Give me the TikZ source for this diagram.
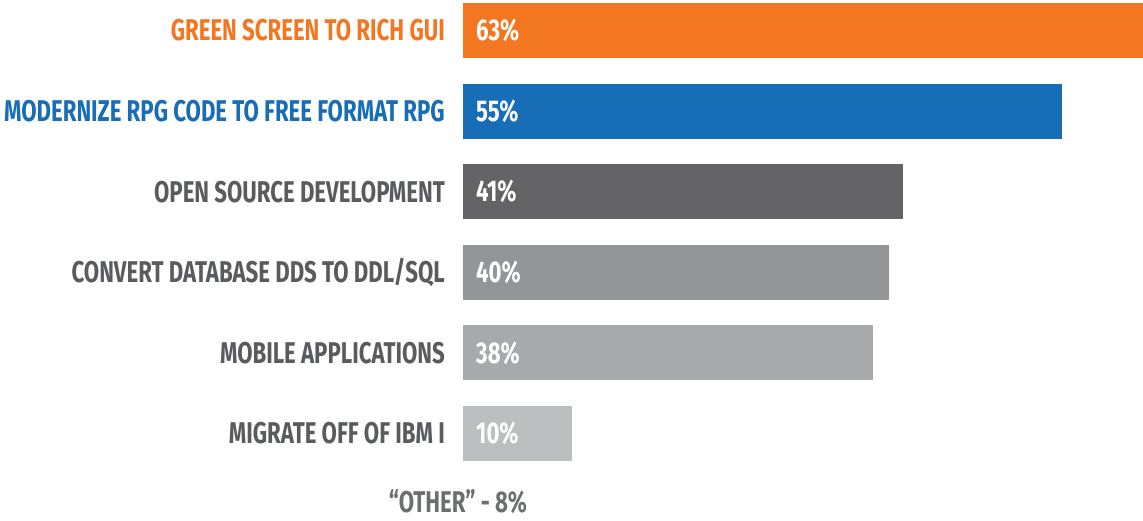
\documentclass[tikz,border=0pt]{standalone}
\usepackage{fontspec}
\setmainfont{Fira Sans}[FakeStretch=0.74]
\usetikzlibrary{positioning}
\definecolor{barOrange}{HTML}{F37721}
\definecolor{barBlue}{HTML}{176DB6}
\definecolor{barDark}{HTML}{646466}
\definecolor{barMid}{HTML}{939598}
\definecolor{barLight}{HTML}{A7A9AC}
\definecolor{barPale}{HTML}{BCBEC0}
\definecolor{labGray}{HTML}{5A5B5E}
\definecolor{otherGray}{HTML}{6D6E71}

\tikzset{
  bar/.style={anchor=west, inner sep=0pt, minimum height=55pt},
  lab/.style={anchor=east, inner sep=0pt, font=\fontsize{30}{30}\selectfont\bfseries},
  pct/.style={anchor=west, inner sep=0pt, text=white, font=\fontsize{30}{30}\selectfont\bfseries}
}

\begin{document}
\begin{tikzpicture}[x=1pt,y=-1pt]
\useasboundingbox (0,0) rectangle (1143,521);

% label / percent / bar length / bar colour / label colour
\def\items{%
GREEN SCREEN TO RICH GUI/63/680/barOrange/barOrange,
MODERNIZE RPG CODE TO FREE FORMAT RPG/55/599/barBlue/barBlue,
OPEN SOURCE DEVELOPMENT/41/440/barDark/labGray,
CONVERT DATABASE DDS TO DDL\slash SQL/40/426/barMid/labGray,
MOBILE APPLICATIONS/38/410/barLight/labGray,
MIGRATE OFF OF IBM I/10/109/barPale/labGray}
\def\barStep{80.6}
\def\barTop{30.5}

% draw the bars with their labels
\foreach \name/\p/\len/\bcol/\tcol [count=\ni] in \items
{
\pgfmathsetmacro\cY{\barTop+(\ni-1)*\barStep}
\node[bar, fill=\bcol, minimum width=\len pt] (bar\ni) at (463,\cY) {};
\node[pct] (pct\ni) at ([xshift=13pt]bar\ni.west) {\p\%};
\node[lab, text=\tcol] (lab\ni) at ([xshift=-18pt]bar\ni.west) {\name};
}

% the remaining answer
\node[inner sep=0pt, text=otherGray, font=\fontsize{30}{30}\selectfont\bfseries] (other) at (458,502) {``OTHER'' - 8\%};

\end{tikzpicture}
\end{document}
